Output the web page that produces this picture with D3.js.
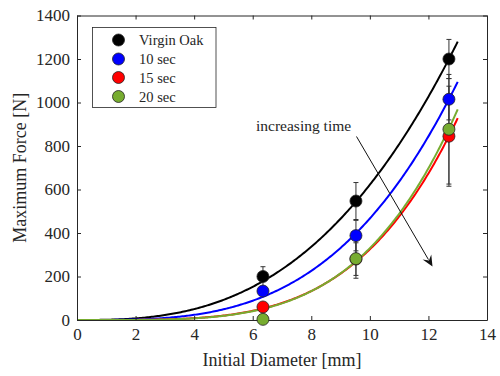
<!DOCTYPE html>
<html>
<head>
<meta charset="utf-8">
<script src="https://cdn.jsdelivr.net/npm/d3@7/dist/d3.min.js"></script>
<style>
  html, body { margin: 0; padding: 0; background: #fff; }
  svg { display: block; }
  text { font-family: "Liberation Serif", "Times New Roman", serif; fill: #262626; }
</style>
</head>
<body>
<svg id="chart" width="500" height="376"></svg>
<script>
// ---- data ----
const seriesNames = ["Virgin Oak", "10 sec", "15 sec", "20 sec"];
const seriesColors = ["#000000", "#0000ff", "#ff0000", "#77ac30"];
const diameters = [6.35, 9.525, 12.7];
const forceVirgin = [200, 547, 1200];
const force10 = [133, 388, 1015];
const force15 = [60, 280, 845];
const force20 = [3, 282, 877];
const errVirgin = [45, 85, 90];
const err10 = [20, 70, 95];
const err15 = [15, 75, 230];
const err20 = [5, 90, 252];
// power-law fit F = a * d^b
const fitA = [1.106, 0.2625, 0.0325, 0.02624];
const fitB = [2.75, 3.25, 4.0, 4.1];
const fitRange = [0, 13];
const xTicks = [0, 2, 4, 6, 8, 10, 12, 14];
const yTicks = [0, 200, 400, 600, 800, 1000, 1200, 1400];
const annotationText = "increasing time";
const xLabel = "Initial Diameter [mm]";
const yLabel = "Maximum Force [N]";

const forces = [forceVirgin, force10, force15, force20];
const errs = [errVirgin, err10, err15, err20];

// ---- layout ----
const svg = d3.select("#chart");
const x = d3.scaleLinear().domain([0, 14]).range([77, 487]);
const y = d3.scaleLinear().domain([0, 1400]).range([320, 15.5]);
const axisColor = "#262626";
const tickLen = 4;
const serif = '"Liberation Serif", "Times New Roman", serif';

// curves
const fitSamples = d3.range(fitRange[0], fitRange[1] + 1e-9, 0.05);
const line = d3.line().x(d => x(d[0])).y(d => y(d[1]));
const curveG = svg.append("g");
seriesNames.forEach((n, i) => {
  const pts = fitSamples.map(d => [d, fitA[i] * Math.pow(d, fitB[i])]);
  curveG.append("path")
    .attr("d", line(pts))
    .attr("fill", "none")
    .attr("stroke", seriesColors[i])
    .attr("stroke-width", 2);
});

// axes box
const fmt = d3.format("d");
const xBottom = d3.axisBottom(x).tickValues(xTicks).tickFormat(fmt).tickSizeInner(-tickLen).tickSizeOuter(0).tickPadding(8);
const xTop = d3.axisTop(x).tickValues(xTicks).tickSizeInner(-tickLen).tickSizeOuter(0).tickFormat("");
const yLeft = d3.axisLeft(y).tickValues(yTicks).tickFormat(fmt).tickSizeInner(-tickLen).tickSizeOuter(0).tickPadding(7);
const yRight = d3.axisRight(y).tickValues(yTicks).tickSizeInner(-tickLen).tickSizeOuter(0).tickFormat("");

function style(g) {
  g.attr("font-family", serif).attr("font-size", 17);
  g.select(".domain").attr("stroke", axisColor).attr("stroke-width", 1);
  g.selectAll(".tick line").attr("stroke", axisColor).attr("stroke-width", 1);
  g.selectAll(".tick text").attr("fill", axisColor);
}
svg.append("g").attr("transform", `translate(0,${y(0)})`).call(xBottom).call(style);
svg.append("g").attr("transform", `translate(0,${y(1400)})`).call(xTop).call(style);
svg.append("g").attr("transform", `translate(${x(0)},0)`).call(yLeft).call(style);
svg.append("g").attr("transform", `translate(${x(14)},0)`).call(yRight).call(style);

// error bars
const ebG = svg.append("g");
seriesNames.forEach((n, i) => {
  diameters.forEach((d, j) => {
    const lo = forces[i][j] - errs[i][j], hi = forces[i][j] + errs[i][j];
    const cx = x(d);
    ebG.append("line").attr("x1", cx).attr("x2", cx).attr("y1", y(lo)).attr("y2", y(hi))
      .attr("stroke", "#333").attr("stroke-width", 1);
    [lo, hi].forEach(v => {
      ebG.append("line").attr("x1", cx - 2.5).attr("x2", cx + 2.5).attr("y1", y(v)).attr("y2", y(v))
        .attr("stroke", "#333").attr("stroke-width", 1);
    });
  });
});

// markers
const mG = svg.append("g");
seriesNames.forEach((n, i) => {
  diameters.forEach((d, j) => {
    mG.append("circle").attr("cx", x(d)).attr("cy", y(forces[i][j])).attr("r", 6)
      .attr("fill", seriesColors[i]).attr("stroke", "#222").attr("stroke-width", 0.8);
  });
});

// annotation arrow
const ax1 = 356.5, ay1 = 136.5, ax2 = 432.5, ay2 = 266.5;
svg.append("text").attr("x", 256).attr("y", 131).attr("font-size", 15.5).attr("fill", "#262626").text(annotationText);
const ang = Math.atan2(ay2 - ay1, ax2 - ax1);
const hl = 11, hw = 5;
const bx = ax2 - hl * Math.cos(ang), by = ay2 - hl * Math.sin(ang);
svg.append("line").attr("x1", ax1).attr("y1", ay1).attr("x2", bx + 3 * Math.cos(ang)).attr("y2", by + 3 * Math.sin(ang))
  .attr("stroke", "#111").attr("stroke-width", 1);
const px = -Math.sin(ang), py = Math.cos(ang);
const notch = 4;
const head = [
  [ax2, ay2],
  [bx + hw * px, by + hw * py],
  [bx + notch * Math.cos(ang), by + notch * Math.sin(ang)],
  [bx - hw * px, by - hw * py]
];
svg.append("path").attr("d", "M" + head.map(p => p.join(",")).join("L") + "Z").attr("fill", "#111");

// axis labels
svg.append("text").attr("x", (x(0) + x(14)) / 2).attr("y", 366).attr("text-anchor", "middle")
  .attr("font-size", 18).text(xLabel);
svg.append("text").attr("transform", `translate(26,${(y(0) + y(1400)) / 2}) rotate(-90)`)
  .attr("text-anchor", "middle").attr("font-size", 18).text(yLabel);

// legend
const lg = svg.append("g");
lg.append("rect").attr("x", 92.5).attr("y", 27.5).attr("width", 123.5).attr("height", 80)
  .attr("fill", "#fff").attr("stroke", "#262626").attr("stroke-width", 0.8);
const rowY = [40, 59, 77.5, 96.5];
seriesNames.forEach((n, i) => {
  lg.append("circle").attr("cx", 118.5).attr("cy", rowY[i]).attr("r", 6)
    .attr("fill", seriesColors[i]).attr("stroke", "#222").attr("stroke-width", 0.8);
  lg.append("text").attr("x", 139).attr("y", rowY[i] + 5).attr("font-size", 14.5).attr("fill", "#000").text(n);
});
</script>
</body>
</html>
